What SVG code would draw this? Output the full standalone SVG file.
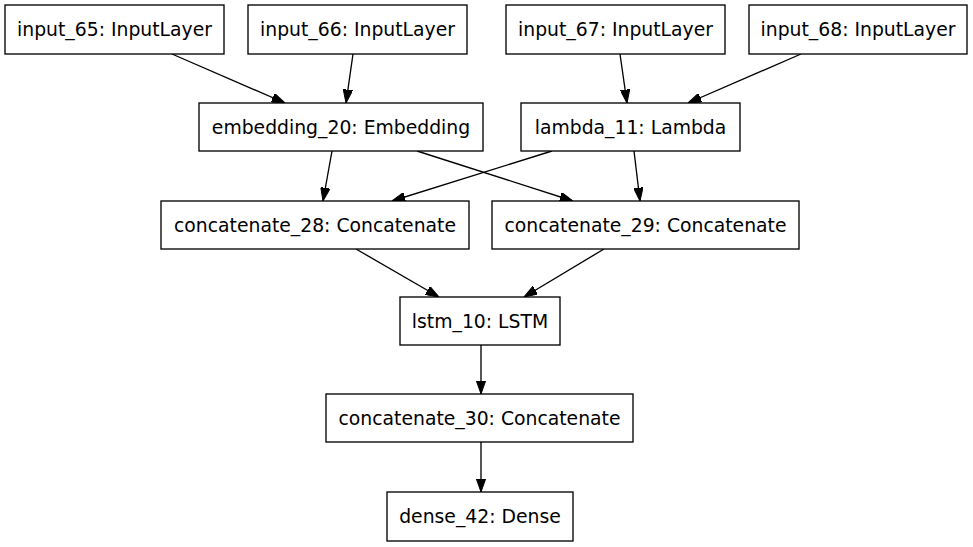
<svg xmlns="http://www.w3.org/2000/svg" width="973" height="547" viewBox="0 0 973 547">
<style>
.n rect{fill:#fff;stroke:#000;stroke-width:1.33}
.n text{font-family:"DejaVu Sans",sans-serif;font-size:18.8px;fill:#000;text-anchor:middle}
.e line{stroke:#000;stroke-width:1.33;marker-end:url(#ah)}
</style>
<defs>
<marker id="ah" viewBox="0 0 13.3 9.4" refX="13.3" refY="4.7" markerWidth="13.3" markerHeight="9.4" orient="auto" markerUnits="userSpaceOnUse">
<path d="M0,0 L13.3,4.7 L0,9.4 Z" fill="#000" stroke="#000" stroke-width="1"/>
</marker>
</defs>
<rect width="973" height="547" fill="#fff"/>
<g class="e" id="edges">
<line x1="172" y1="54" x2="285" y2="103"/>
<line x1="353" y1="54" x2="346" y2="103"/>
<line x1="620" y1="54" x2="627" y2="103"/>
<line x1="801" y1="54" x2="688" y2="103"/>
<line x1="332" y1="151" x2="323" y2="201"/>
<line x1="417" y1="151" x2="573" y2="201"/>
<line x1="552" y1="151" x2="392" y2="201"/>
<line x1="634" y1="151" x2="640" y2="201"/>
<line x1="356" y1="249" x2="439" y2="297"/>
<line x1="604" y1="249" x2="524" y2="297"/>
<line x1="481" y1="345" x2="481" y2="394"/>
<line x1="481" y1="442" x2="481" y2="492"/>
</g>
<g class="n" id="input_65"><rect x="5" y="5" width="219" height="49"/><text x="114.5" y="36">input_65: InputLayer</text></g>
<g class="n" id="input_66"><rect x="248" y="5" width="219" height="49"/><text x="357.5" y="36">input_66: InputLayer</text></g>
<g class="n" id="input_67"><rect x="506" y="5" width="219" height="49"/><text x="615.5" y="36">input_67: InputLayer</text></g>
<g class="n" id="input_68"><rect x="749" y="5" width="218" height="49"/><text x="858" y="36">input_68: InputLayer</text></g>
<g class="n" id="embedding_20"><rect x="199" y="103" width="284" height="48"/><text x="341" y="134">embedding_20: Embedding</text></g>
<g class="n" id="lambda_11"><rect x="521" y="103" width="219" height="48"/><text x="630.5" y="134">lambda_11: Lambda</text></g>
<g class="n" id="concatenate_28"><rect x="161" y="201" width="308" height="48"/><text x="315" y="232">concatenate_28: Concatenate</text></g>
<g class="n" id="concatenate_29"><rect x="492" y="201" width="307" height="48"/><text x="645.5" y="232">concatenate_29: Concatenate</text></g>
<g class="n" id="lstm_10"><rect x="400" y="297" width="160" height="48"/><text x="480" y="328">lstm_10: LSTM</text></g>
<g class="n" id="concatenate_30"><rect x="326" y="394" width="307" height="48"/><text x="479.5" y="425">concatenate_30: Concatenate</text></g>
<g class="n" id="dense_42"><rect x="387" y="492" width="186" height="49"/><text x="480" y="523">dense_42: Dense</text></g>
</svg>
